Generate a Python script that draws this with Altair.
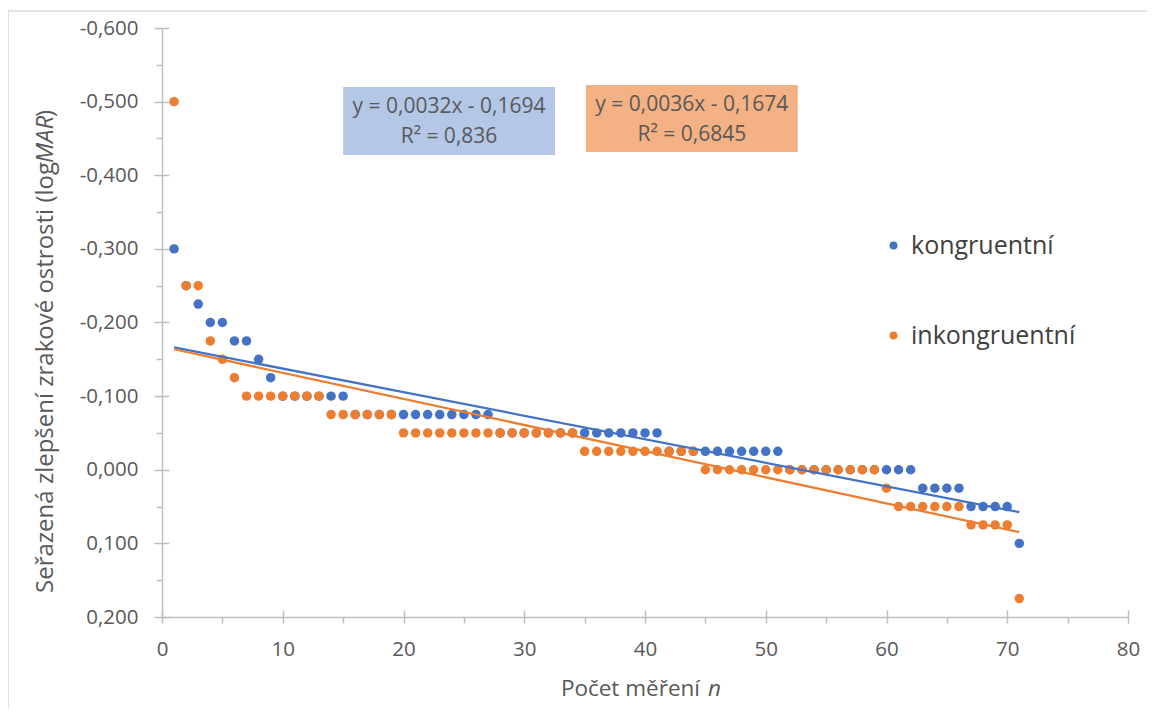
import altair as alt
import pandas as pd

# ---------------- data ----------------
n_index = list(range(1, 72))
kongruentni = [
    -0.300, -0.250, -0.225, -0.200, -0.200, -0.175, -0.175, -0.150, -0.125,
    -0.100, -0.100, -0.100, -0.100, -0.100, -0.100,
    -0.075, -0.075, -0.075, -0.075, -0.075, -0.075, -0.075, -0.075, -0.075, -0.075, -0.075, -0.075,
    -0.050, -0.050, -0.050, -0.050, -0.050, -0.050, -0.050, -0.050, -0.050, -0.050, -0.050, -0.050, -0.050, -0.050,
    -0.025, -0.025, -0.025, -0.025, -0.025, -0.025, -0.025, -0.025, -0.025, -0.025,
    0.000, 0.000, 0.000, 0.000, 0.000, 0.000, 0.000, 0.000, 0.000, 0.000, 0.000,
    0.025, 0.025, 0.025, 0.025,
    0.050, 0.050, 0.050, 0.050,
    0.100,
]
inkongruentni = [
    -0.500, -0.250, -0.250, -0.175, -0.150, -0.125,
    -0.100, -0.100, -0.100, -0.100, -0.100, -0.100, -0.100,
    -0.075, -0.075, -0.075, -0.075, -0.075, -0.075,
    -0.050, -0.050, -0.050, -0.050, -0.050, -0.050, -0.050, -0.050, -0.050, -0.050, -0.050, -0.050, -0.050, -0.050, -0.050,
    -0.025, -0.025, -0.025, -0.025, -0.025, -0.025, -0.025, -0.025, -0.025, -0.025,
    0.000, 0.000, 0.000, 0.000, 0.000, 0.000, 0.000, 0.000, 0.000, 0.000, 0.000, 0.000, 0.000, 0.000, 0.000,
    0.025,
    0.050, 0.050, 0.050, 0.050, 0.050, 0.050,
    0.075, 0.075, 0.075, 0.075,
    0.175,
]
series_names = ["kongruentní", "inkongruentní"]
series_colors = ["#4472C4", "#ED7D31"]

eq_labels = ["y = 0,0032x - 0,1694", "y = 0,0036x - 0,1674"]
r2_labels = ["R² = 0,836", "R² = 0,6845"]
box_fills = ["#B4C7E7", "#F4B183"]

x_tick_values = [0, 5, 10, 15, 20, 25, 30, 35, 40, 45, 50, 55, 60, 65, 70, 75, 80]
x_major_values = [0, 10, 20, 30, 40, 50, 60, 70, 80]
y_tick_values = [-0.6, -0.55, -0.5, -0.45, -0.4, -0.35, -0.3, -0.25, -0.2, -0.15,
                 -0.1, -0.05, 0.0, 0.05, 0.1, 0.15, 0.2]
y_major_values = [-0.6, -0.5, -0.4, -0.3, -0.2, -0.1, 0.0, 0.1, 0.2]

x_title_main = "Počet měření"
x_title_italic = "n"
y_title_main = "Seřazená zlepšení  zrakové ostrosti (log"
y_title_italic = "MAR"
y_title_end = ")"

# ---------------- layout / style ----------------
FONT = "Open Sans"
W, H = 966, 589
AXIS_COLOR = "#BFBFBF"
TEXT_COLOR = "#595959"

# annotation boxes (data coordinates)
box_x0 = [15.0, 35.1]
box_x1 = [32.55, 52.65]
box_y0 = [-0.5198, -0.5226]
box_y1 = [-0.4274, -0.4315]
text_cx = [23.77, 43.88]
eq_y = [-0.4927, -0.4954]
r2_y = [-0.4519, -0.4546]

rows = []
for name, vals in zip(series_names, [kongruentni, inkongruentni]):
    for i, v in zip(n_index, vals):
        rows.append({"series": name, "n": i, "value": v})
df = pd.DataFrame(rows)

ann = pd.DataFrame({
    "x0": box_x0, "x1": box_x1, "y0": box_y0, "y1": box_y1,
    "cx": text_cx, "eqy": eq_y, "r2y": r2_y,
    "eq": eq_labels, "r2": r2_labels, "fill": box_fills,
})

x_scale = alt.Scale(domain=[0, 80], nice=False, zero=False)
y_scale = alt.Scale(domain=[-0.6, 0.2], nice=False, zero=False, reverse=True)

major_test = "abs(datum.value*10 - round(datum.value*10)) < 0.001"

x_axis = alt.Axis(
    values=x_tick_values, labelExpr="datum.value % 10 === 0 ? datum.label : ''",
    tickSize=6, tickColor=AXIS_COLOR, tickWidth=1.5,
    domainColor=AXIS_COLOR, domainWidth=1.5, grid=False,
    labelFont=FONT, labelFontSize=20.5, labelColor=TEXT_COLOR,
    labelBaseline="middle", labelPadding=26, labelFlush=False, labelOverlap=False,
    title=None, orient="bottom",
)
y_axis = alt.Axis(
    values=y_tick_values,
    labelExpr=major_test + " ? ((datum.value < -0.0001 ? '-' : '') + replace(format(abs(datum.value), '.3f'), '.', ',')) : ''",
    tickSize={"condition": {"test": major_test, "value": 8}, "value": 6},
    tickColor=AXIS_COLOR, tickWidth=1.5,
    domainColor=AXIS_COLOR, domainWidth=1.5, grid=False,
    labelFont=FONT, labelFontSize=20.5, labelColor=TEXT_COLOR,
    labelPadding=16, labelOverlap=False, title=None, orient="left",
)

# inner halves of the crossing major ticks
x_axis_inner = alt.Axis(values=x_major_values, labels=False, domain=False, grid=False,
                        tickSize=7, tickColor=AXIS_COLOR, tickWidth=1.5,
                        offset=-7, title=None, orient="bottom")
y_axis_inner = alt.Axis(values=y_major_values, labels=False, domain=False, grid=False,
                        tickSize=7, tickColor=AXIS_COLOR, tickWidth=1.5,
                        offset=-7, title=None, orient="left")

one = pd.DataFrame({"a": [0]})

border = alt.Chart(one).mark_rect(fillOpacity=0, stroke="#D9D9D9", strokeWidth=1.5, clip=False).encode(
    x=alt.value(-154), x2=alt.value(1100), y=alt.value(-17), y2=alt.value(800)
)

boxes = alt.Chart(ann).mark_rect(clip=False).encode(
    x=alt.X("x0:Q", scale=x_scale, axis=None), x2="x1:Q",
    y=alt.Y("y0:Q", scale=y_scale, axis=None), y2="y1:Q",
    fill=alt.Fill("fill:N", scale=None),
)
eq_text = alt.Chart(ann).mark_text(font=FONT, fontSize=21, color=TEXT_COLOR, align="center", baseline="middle").encode(
    x=alt.X("cx:Q", scale=x_scale, axis=None),
    y=alt.Y("eqy:Q", scale=y_scale, axis=None),
    text="eq:N",
)
r2_text = alt.Chart(ann).mark_text(font=FONT, fontSize=21, color=TEXT_COLOR, align="center", baseline="middle").encode(
    x=alt.X("cx:Q", scale=x_scale, axis=None),
    y=alt.Y("r2y:Q", scale=y_scale, axis=None),
    text="r2:N",
)

points = alt.Chart(df).mark_circle(size=90, opacity=1).encode(
    x=alt.X("n:Q", scale=x_scale, axis=x_axis),
    y=alt.Y("value:Q", scale=y_scale, axis=y_axis),
    color=alt.Color(
        "series:N",
        scale=alt.Scale(domain=series_names, range=series_colors),
        sort=series_names,
        legend=alt.Legend(
            orient="none", legendX=719, legendY=205, title=None, padding=0,
            labelFont=FONT, labelFontSize=25, labelColor="#404040", labelLimit=400,
            symbolType="circle", symbolSize=64, symbolStrokeWidth=0,
            rowPadding=64, labelOffset=5,
        ),
    ),
)

trend_layers = []
for name, col in zip(series_names, series_colors):
    trend_layers.append(
        alt.Chart(df).transform_filter(alt.datum.series == name)
        .transform_regression("n", "value")
        .mark_line(color=col, strokeWidth=2.25)
        .encode(
            x=alt.X("n:Q", scale=x_scale, axis=None),
            y=alt.Y("value:Q", scale=y_scale, axis=None),
        )
    )

inner_ticks = alt.Chart(df).mark_point(opacity=0).encode(
    x=alt.X("n:Q", scale=x_scale, axis=x_axis_inner),
    y=alt.Y("value:Q", scale=y_scale, axis=y_axis_inner),
)

# axis titles with italic parts
xt1 = alt.Chart(one).mark_text(font=FONT, fontSize=22.5, color=TEXT_COLOR, align="right", baseline="alphabetic").encode(
    x=alt.value(538), y=alt.value(668), text=alt.value(x_title_main))
xt2 = alt.Chart(one).mark_text(font=FONT, fontSize=22.5, fontStyle="italic", color=TEXT_COLOR, align="left", baseline="alphabetic").encode(
    x=alt.value(546), y=alt.value(668), text=alt.value(x_title_italic))

YT_FS = 24
YB = 134  # boundary between "(log" and "MAR"
yt1 = alt.Chart(one).mark_text(font=FONT, fontSize=YT_FS, color=TEXT_COLOR, align="right", baseline="alphabetic", angle=270).encode(
    x=alt.value(-109), y=alt.value(YB), text=alt.value(y_title_main))
yt2 = alt.Chart(one).mark_text(font=FONT, fontSize=YT_FS, fontStyle="italic", color=TEXT_COLOR, align="left", baseline="alphabetic", angle=270).encode(
    x=alt.value(-109), y=alt.value(YB + 1), text=alt.value(y_title_italic))
yt3 = alt.Chart(one).mark_text(font=FONT, fontSize=YT_FS, color=TEXT_COLOR, align="left", baseline="alphabetic", angle=270).encode(
    x=alt.value(-109), y=alt.value(YB - 1.88 * YT_FS), text=alt.value(y_title_end))

chart = alt.layer(
    border, boxes, eq_text, r2_text, points, *trend_layers, inner_ticks,
    xt1, xt2, yt1, yt2, yt3,
).resolve_axis(x="independent", y="independent").properties(
    width=W, height=H,
    padding={"left": 154, "top": 20, "right": 19, "bottom": 91},
    autosize=alt.AutoSizeParams(type="none"),
    background="white",
).configure_view(stroke=None)

chart.save("out.html", embed_options={"renderer": "svg", "actions": False})
